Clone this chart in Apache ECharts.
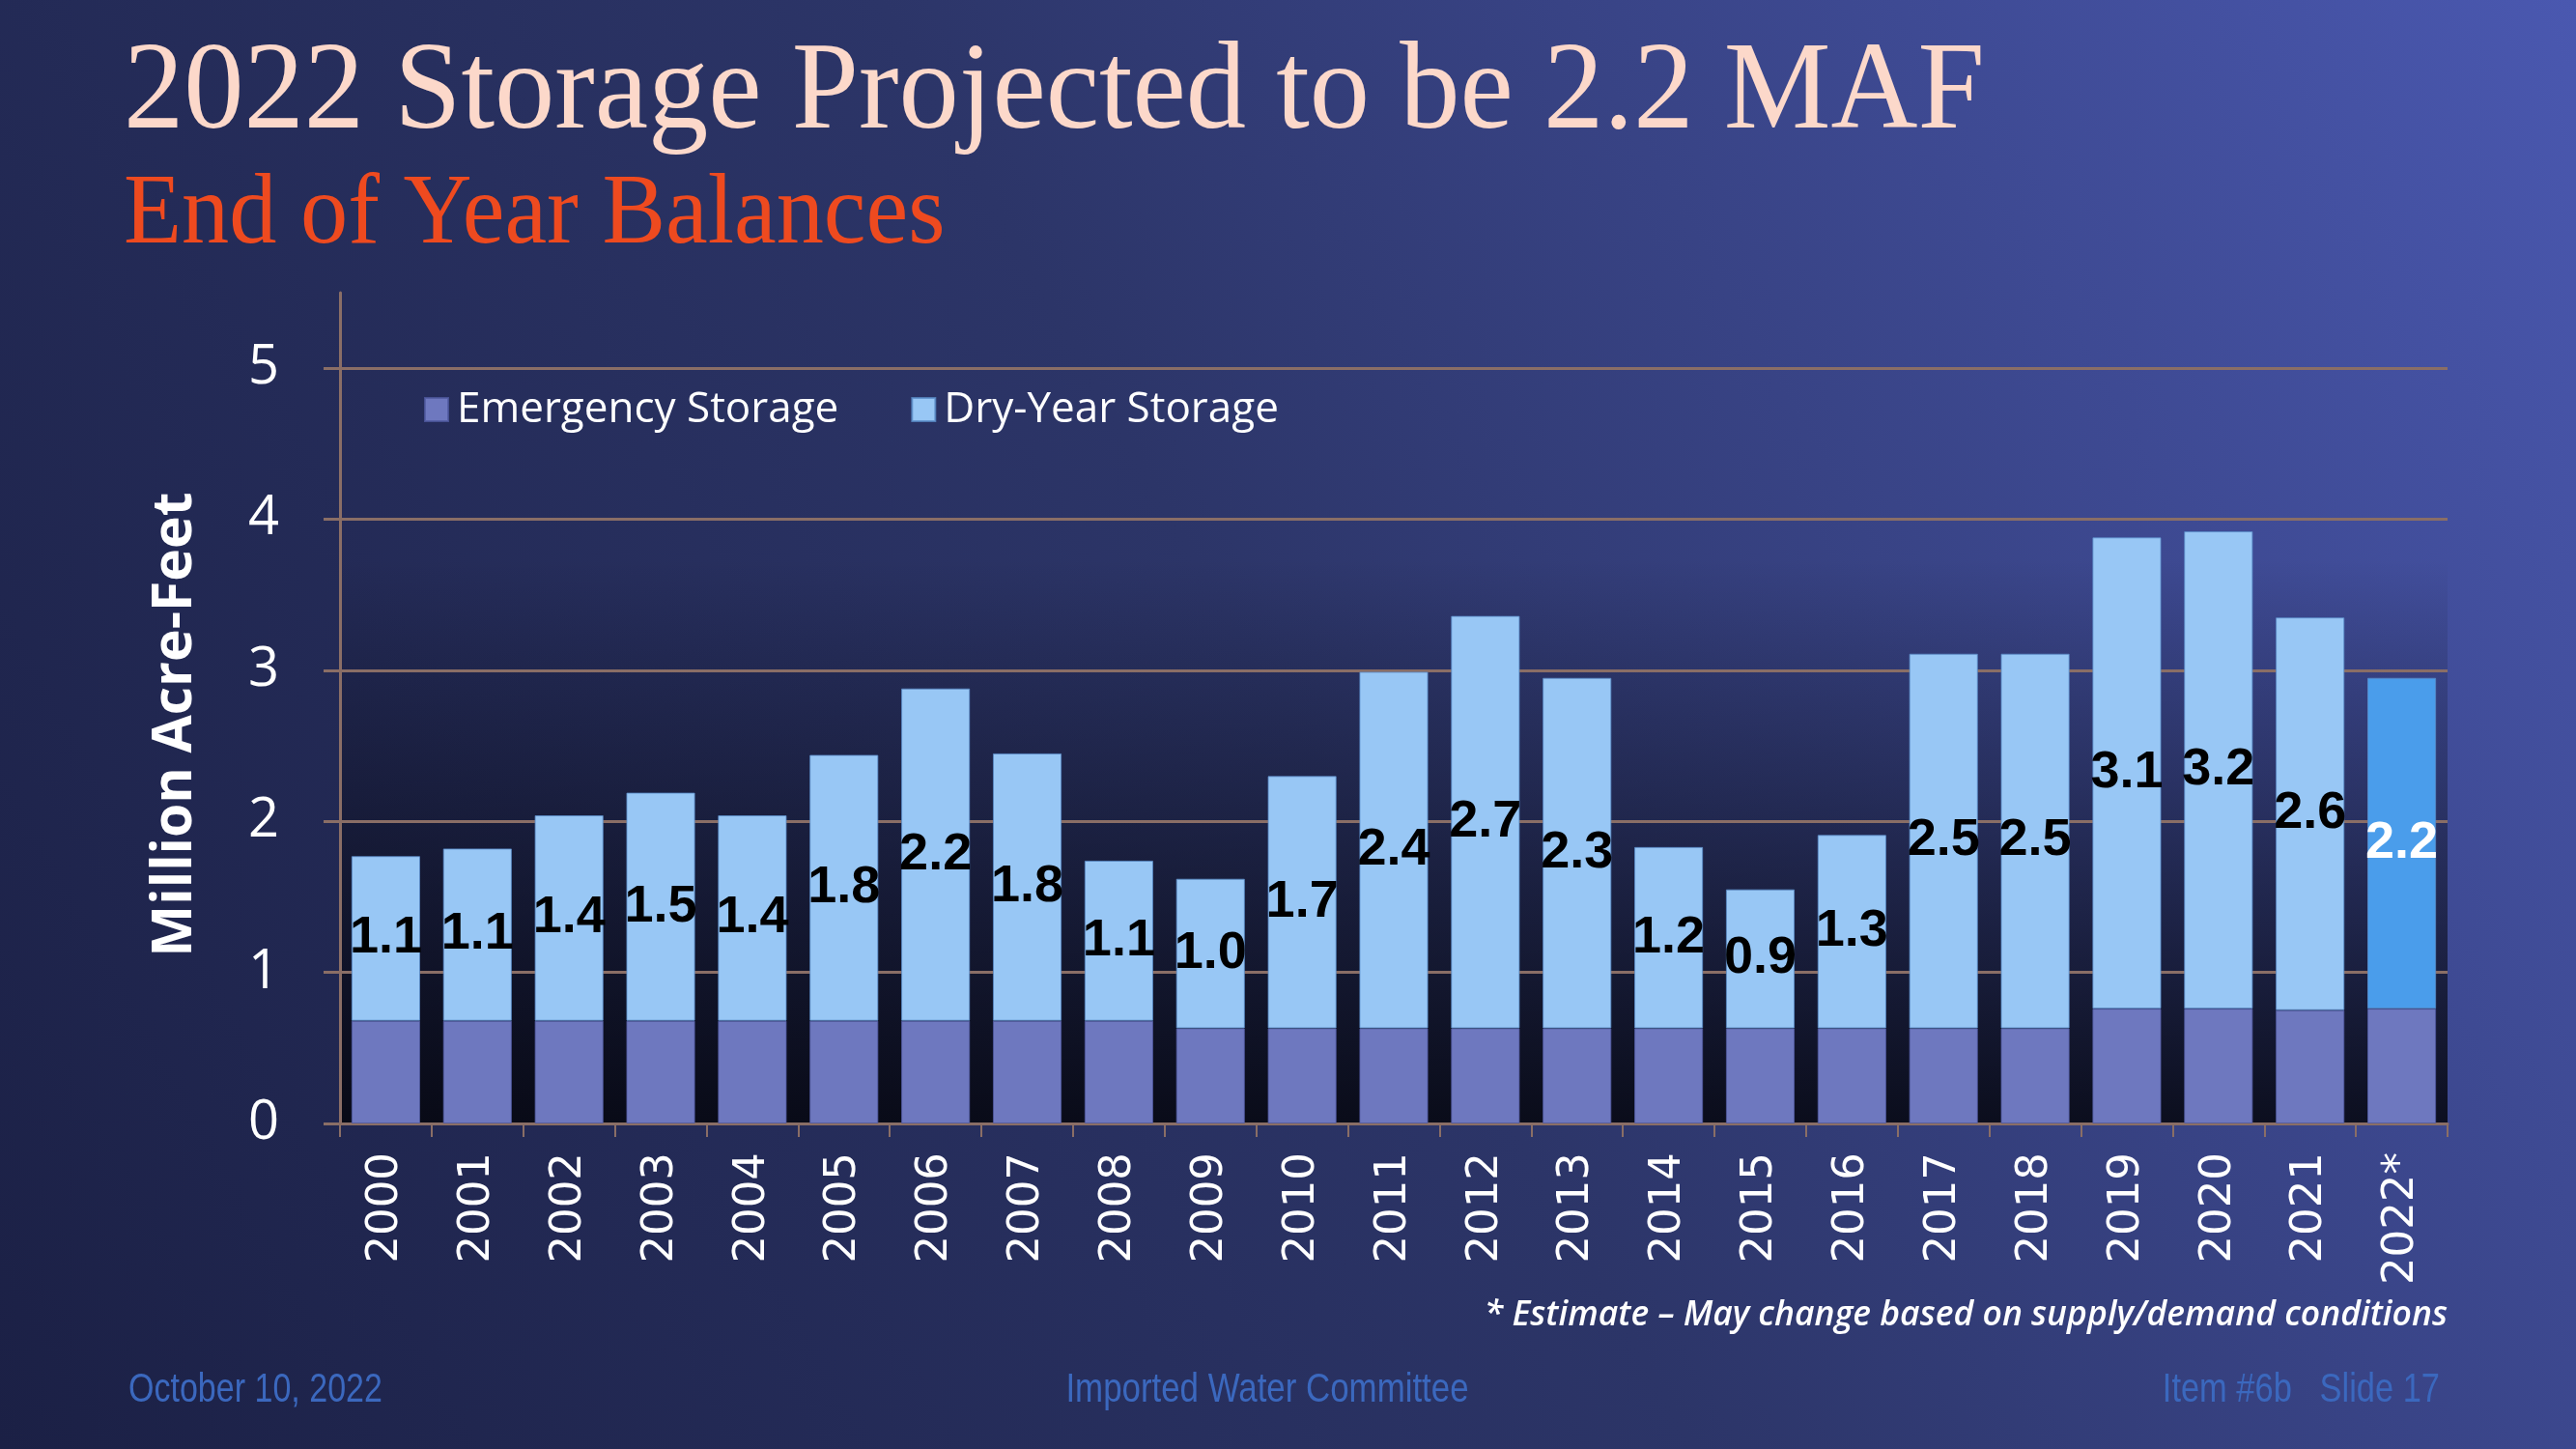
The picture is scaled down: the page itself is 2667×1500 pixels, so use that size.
<!DOCTYPE html>
<html>
<head>
<meta charset="utf-8">
<style>
  html, body { margin: 0; padding: 0; background: #1f2550; }
  #chart { width: 2667px; height: 1500px; }
</style>
<script src="https://cdn.jsdelivr.net/npm/echarts@6/dist/echarts.min.js"></script>
</head>
<body>
<div id="chart"></div>
<script>
// ---- data (million acre-feet) ----
const years = ['2000','2001','2002','2003','2004','2005','2006','2007','2008','2009','2010',
  '2011','2012','2013','2014','2015','2016','2017','2018','2019','2020','2021','2022*'];
const emergencyStorage = [0.68,0.68,0.68,0.68,0.68,0.68,0.68,0.68,0.68,0.63,0.63,
  0.63,0.63,0.63,0.63,0.63,0.63,0.63,0.63,0.76,0.76,0.75,0.76];
const dryYearStorage = [1.09,1.14,1.36,1.51,1.36,1.76,2.2,1.77,1.06,0.99,1.67,
  2.36,2.73,2.32,1.2,0.92,1.28,2.48,2.48,3.12,3.16,2.6,2.19];
const yTicks = [0,1,2,3,4,5];
const estimateIndex = years.length - 1;

const gridColor = '#8a6e66';
const sans = '"Liberation Sans", Arial, sans-serif';

const chart = echarts.init(document.getElementById('chart'));
chart.setOption({
  backgroundColor: {
    type: 'linear', x: 0, y: 1, x2: 1, y2: 0,
    colorStops: [
      { offset: 0, color: '#1b2045' },
      { offset: 0.5, color: '#2c3568' },
      { offset: 1, color: '#4a58b0' }
    ]
  },
  animation: false,
  grid: {
    left: 352, right: 133, top: 303, bottom: 337,
    show: true, borderWidth: 0,
    backgroundColor: {
      type: 'linear', x: 0, y: 0, x2: 0, y2: 1,
      colorStops: [
        { offset: 0, color: 'rgba(4,5,12,0)' },
        { offset: 0.32, color: 'rgba(4,5,12,0)' },
        { offset: 0.6, color: 'rgba(4,5,12,0.33)' },
        { offset: 1, color: 'rgba(4,5,12,0.85)' }
      ]
    }
  },
  legend: {
    left: 439, top: 402, padding: 0,
    itemWidth: 24, itemHeight: 24, itemGap: 75,
    icon: 'rect',
    textStyle: { color: '#ffffff', fontSize: 44, fontFamily: '"Open Sans", sans-serif', padding: [0, 0, 0, 4] },
    data: ['Emergency Storage', 'Dry-Year Storage']
  },
  xAxis: {
    type: 'category',
    data: years,
    axisLine: { lineStyle: { color: gridColor, width: 3 } },
    axisTick: { show: true, length: 14, lineStyle: { color: gridColor, width: 2 } },
    axisLabel: {
      rotate: 90, margin: 30, color: '#ffffff',
      fontSize: 45, fontFamily: '"DejaVu Sans", sans-serif'
    },
    splitLine: { show: false }
  },
  yAxis: {
    type: 'value',
    min: 0, max: 5.5, interval: 1,
    name: 'Million Acre-Feet',
    nameLocation: 'middle',
    nameGap: 142,
    nameTextStyle: {
      color: '#ffffff', fontSize: 57, fontWeight: 'bold',
      fontFamily: '"Open Sans", sans-serif', padding: [0, 34, 0, 0]
    },
    axisLine: { show: true, lineStyle: { color: gridColor, width: 3 } },
    axisTick: { show: true, length: 17, lineStyle: { color: gridColor, width: 3 }, customValues: yTicks },
    axisLabel: {
      margin: 63, color: '#ffffff', fontSize: 56, fontFamily: '"Open Sans", sans-serif',
      customValues: yTicks,
      formatter: v => (yTicks.indexOf(v) >= 0 ? String(v) : '')
    },
    splitLine: { show: true, lineStyle: { color: gridColor, width: 3 } }
  },
  series: [
    {
      name: 'Emergency Storage',
      type: 'bar',
      stack: 'storage',
      barCategoryGap: '25%',
      data: emergencyStorage,
      itemStyle: { color: '#6e78bf', borderColor: 'rgba(80,90,160,0.8)', borderWidth: 1 }
    },
    {
      name: 'Dry-Year Storage',
      type: 'bar',
      stack: 'storage',
      barCategoryGap: '25%',
      data: dryYearStorage.map((v, i) => i === estimateIndex
        ? { value: v, itemStyle: { color: '#4a9deb' }, label: { color: '#ffffff' } }
        : v),
      itemStyle: { color: '#98c7f5', borderColor: 'rgba(90,140,200,0.8)', borderWidth: 1 },
      label: {
        show: true,
        position: 'inside',
        color: '#000000',
        fontWeight: 'bold',
        fontSize: 54,
        fontFamily: sans,
        formatter: p => Number(p.value).toFixed(1)
      }
    }
  ],
  graphic: [
    {
      type: 'text', x: 128, y: 98, scaleX: 0.958,
      style: {
        text: '2022 Storage Projected to be 2.2 MAF',
        fontSize: 130, fontFamily: '"Liberation Serif", "DejaVu Serif", serif',
        fill: '#fcd8ca', align: 'left', verticalAlign: 'middle'
      }
    },
    {
      type: 'text', x: 128, y: 224, scaleX: 0.955,
      style: {
        text: 'End of Year Balances',
        fontSize: 103, fontFamily: '"Liberation Serif", "DejaVu Serif", serif',
        fill: '#ee4a1f', align: 'left', verticalAlign: 'middle'
      }
    },
    {
      type: 'text', x: 2534, y: 1362,
      style: {
        text: '* Estimate \u2013 May change based on supply/demand conditions',
        fontSize: 35.5, fontStyle: 'italic', fontWeight: 600,
        fontFamily: '"Open Sans", sans-serif',
        fill: '#ffffff', align: 'right', verticalAlign: 'middle'
      }
    },
    {
      type: 'text', x: 133, y: 1439, scaleX: 0.81,
      style: { text: 'October 10, 2022', fontSize: 42, fontFamily: sans, fill: '#3b68be', align: 'left', verticalAlign: 'middle' }
    },
    {
      type: 'text', x: 1312, y: 1439, scaleX: 0.83,
      style: { text: 'Imported Water Committee', fontSize: 42, fontFamily: sans, fill: '#3b68be', align: 'center', verticalAlign: 'middle' }
    },
    {
      type: 'text', x: 2526, y: 1439, scaleX: 0.82,
      style: { text: 'Item #6b   Slide 17', fontSize: 42, fontFamily: sans, fill: '#3b68be', align: 'right', verticalAlign: 'middle' }
    }
  ]
});
</script>
</body>
</html>
